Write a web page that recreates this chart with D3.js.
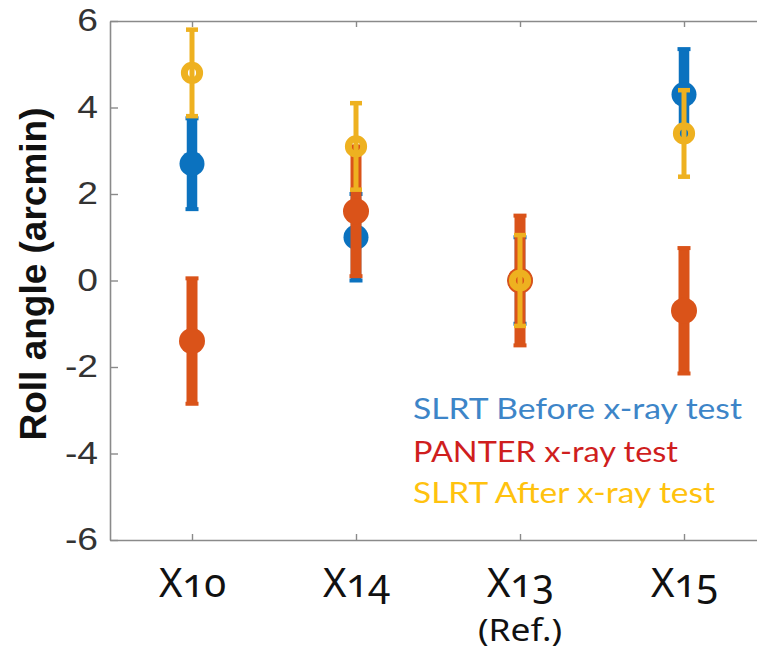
<!DOCTYPE html>
<html>
<head>
<meta charset="utf-8">
<script src="https://cdn.jsdelivr.net/npm/d3@7"></script>
<style>
  html, body { margin: 0; padding: 0; background: #fff; }
  svg { display: block; }
</style>
</head>
<body>
<svg id="chart" width="757" height="651"></svg>
<script>
// Roll angle per module, three measurement campaigns
const categories = ["X10", "X14", "X13", "X15"];
const categoryNotes = ["", "", "(Ref.)", ""];

const slrtBefore    = [2.7, 1.0, 0.0, 4.3];
const slrtBeforeErr = [1.05, 1.0, 1.0, 1.05];

const panter    = [-1.4, 1.6, 0.0, -0.7];
const panterErr = [1.45, 1.5, 1.5, 1.45];

const slrtAfter    = [4.8, 3.1, 0.0, 3.4];
const slrtAfterErr = [1.0, 1.0, 1.05, 1.0];

const yTicks = [-6, -4, -2, 0, 2, 4, 6];
const legendLabels = ["SLRT Before x-ray test", "PANTER x-ray test", "SLRT After x-ray test"];
const yLabel = "Roll angle (arcmin)";

const svg = d3.select("#chart");

const x = d3.scaleLinear().domain([0.5, 4.5]).range([110, 766]);
const y = d3.scaleLinear().domain([-6, 6]).range([540, 21]);

const axisColor = "#8a8a8a";

// frame: left, top, bottom axes with inward ticks
const gLeft = svg.append("g").attr("transform", `translate(${x(0.5)},0)`)
  .call(d3.axisLeft(y).tickValues(yTicks).tickSize(-8).tickSizeOuter(0).tickPadding(10).tickFormat(d => String(d)));
gLeft.selectAll("text")
  .attr("font-family", "'Liberation Sans', Arial, sans-serif")
  .attr("font-size", 31)
  .attr("fill", "#333")
  .attr("transform", "scale(1.2,1)");

const gTop = svg.append("g").attr("transform", `translate(0,${y(6)})`)
  .call(d3.axisTop(x).tickValues([1, 2, 3, 4]).tickSize(-6).tickSizeOuter(0).tickFormat(""));

const gBottom = svg.append("g").attr("transform", `translate(0,${y(-6)})`)
  .call(d3.axisBottom(x).tickValues([1, 2, 3, 4]).tickSize(-6).tickSizeOuter(0)
    .tickFormat(d => categories[d - 1]));
gBottom.selectAll("text")
  .attr("font-family", "'Noto Sans', 'Open Sans', sans-serif")
  .attr("font-size", 40)
  .attr("fill", "#111")
  .attr("y", 57)
  .attr("dy", 0)
  .style("font-variant-numeric", "oldstyle-nums")
  .style("font-feature-settings", "'onum' 1");

[gLeft, gTop, gBottom].forEach(g => {
  g.select(".domain").attr("stroke", axisColor).attr("stroke-width", 1.6);
  g.selectAll(".tick line").attr("stroke", axisColor).attr("stroke-width", 1.4);
});

// note under a category label
svg.append("g").selectAll("text")
  .data(categoryNotes.map((n, i) => ({ n, i })).filter(d => d.n))
  .join("text")
  .attr("x", d => x(d.i + 1))
  .attr("y", 641)
  .attr("text-anchor", "middle")
  .attr("font-family", "'Noto Sans', 'Open Sans', sans-serif")
  .attr("font-size", 31)
  .attr("fill", "#111")
  .attr("textLength", 84)
  .attr("lengthAdjust", "spacingAndGlyphs")
  .text(d => d.n);

// y axis title
svg.append("text")
  .attr("transform", `translate(46,274) rotate(-90)`)
  .attr("text-anchor", "middle")
  .attr("font-family", "'Liberation Sans', Arial, sans-serif")
  .attr("font-weight", "bold")
  .attr("font-size", 37)
  .attr("fill", "#111")
  .text(yLabel);

// error bar series
const series = [
  { vals: slrtBefore, errs: slrtBeforeErr, color: "#0b72bf", barW: 10.5, capW: 13, capH: 4, marker: "filled", r: 12.5 },
  { vals: panter,     errs: panterErr,     color: "#da5319", barW: 11,   capW: 13, capH: 4, marker: "filled", r: 13 },
  { vals: slrtAfter,  errs: slrtAfterErr,  color: "#eeb120", barW: 5,    capW: 12, capH: 4.5, marker: "open", r: 7.6 }
];

series.forEach(s => {
  const g = svg.append("g");
  const pts = s.vals.map((v, i) => ({ cx: i + 1, v, e: s.errs[i] }));
  g.selectAll("rect.bar").data(pts).join("rect").attr("class", "bar")
    .attr("x", d => x(d.cx) - s.barW / 2)
    .attr("width", s.barW)
    .attr("y", d => y(d.v + d.e))
    .attr("height", d => y(d.v - d.e) - y(d.v + d.e))
    .attr("fill", s.color);
  ["+", "-"].forEach(sign => {
    g.selectAll(`rect.cap${sign === "+" ? "t" : "b"}`).data(pts).join("rect")
      .attr("class", `cap${sign === "+" ? "t" : "b"}`)
      .attr("x", d => x(d.cx) - s.capW / 2)
      .attr("width", s.capW)
      .attr("y", d => y(sign === "+" ? d.v + d.e : d.v - d.e) - s.capH / 2)
      .attr("height", s.capH)
      .attr("fill", s.color);
  });
  const m = g.selectAll("circle").data(pts).join("circle")
    .attr("cx", d => x(d.cx))
    .attr("cy", d => y(d.v))
    .attr("r", s.r);
  if (s.marker === "filled") {
    m.attr("fill", s.color);
  } else {
    m.attr("fill", "none").attr("stroke", s.color).attr("stroke-width", 7);
  }
});

// legend as coloured text
const legendColors = ["#3d85c8", "#cf1e1e", "#ffc20e"];
const legendWidths = [329, 265, 302];
const legendBase = [419, 462, 503];
svg.append("g").selectAll("text")
  .data(legendLabels)
  .join("text")
  .attr("x", 413)
  .attr("y", (d, i) => legendBase[i])
  .attr("font-family", "Lato, 'Open Sans', sans-serif")
  .attr("font-size", 29)
  .attr("fill", (d, i) => legendColors[i])
  .attr("textLength", (d, i) => legendWidths[i])
  .attr("lengthAdjust", "spacingAndGlyphs")
  .text(d => d);
</script>
</body>
</html>
